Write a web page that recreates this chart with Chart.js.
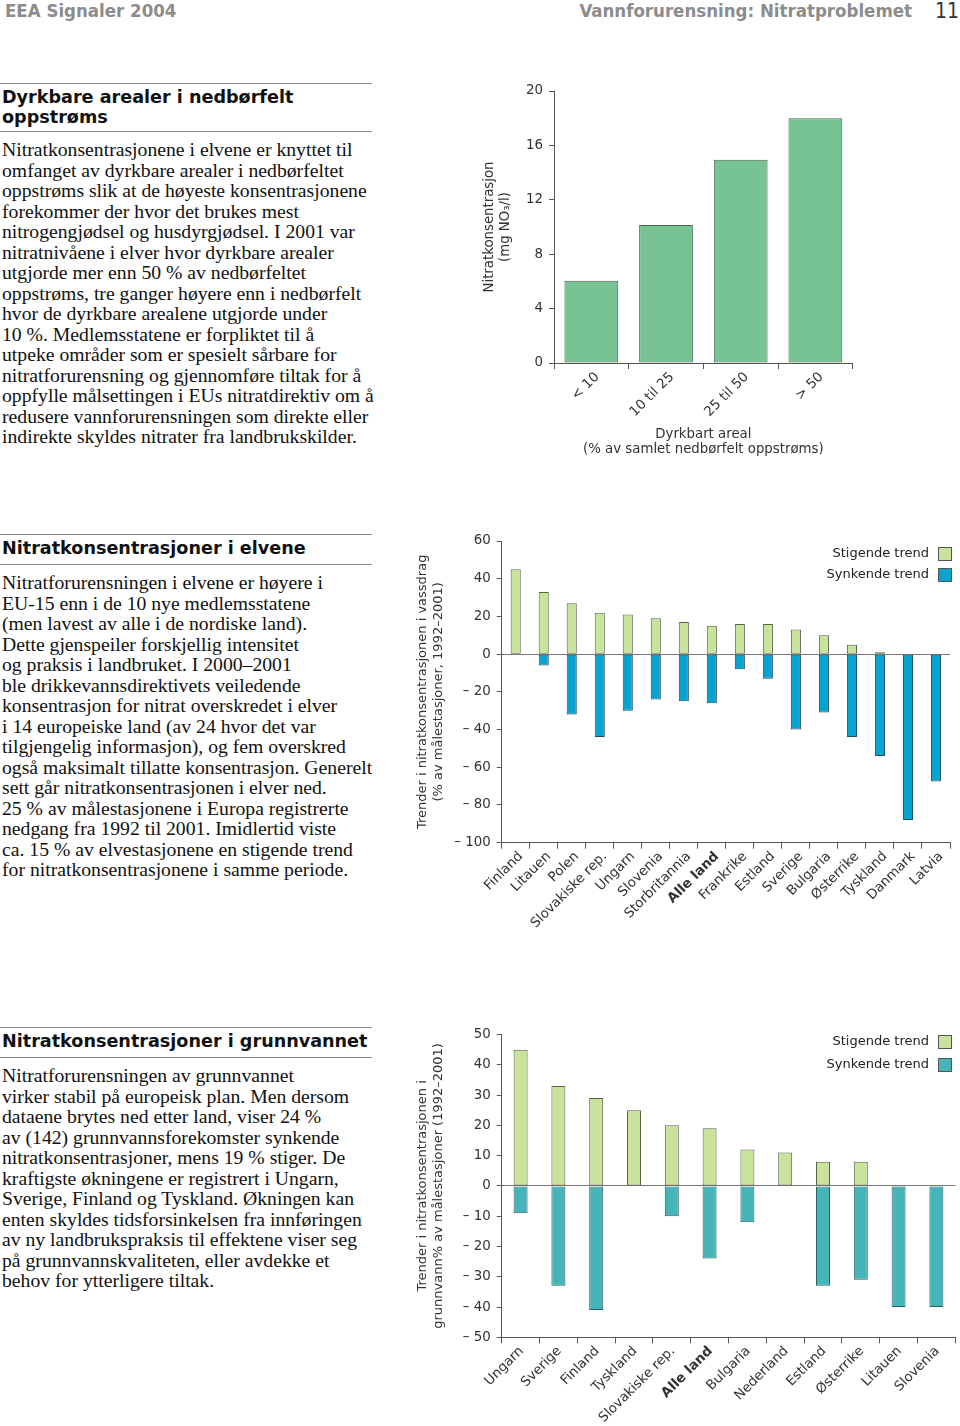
<!DOCTYPE html>
<html><head><meta charset="utf-8">
<script src="https://cdn.jsdelivr.net/npm/chart.js@4/dist/chart.umd.min.js"></script>
<style>
body{margin:0;width:960px;height:1426px;position:relative;background:#fff;overflow:hidden}
.hdr{position:absolute;top:0;font-family:"DejaVu Sans Condensed","DejaVu Sans",sans-serif;font-stretch:condensed;font-weight:bold;font-size:18.5px;line-height:22px;color:#8c8c8c;white-space:nowrap}
.pg{position:absolute;top:0;left:935px;font-family:"DejaVu Sans Condensed","DejaVu Sans",sans-serif;font-stretch:condensed;font-size:21px;line-height:22px;color:#333}
.rule{position:absolute;left:0;width:372px;height:0;border-top:1.5px solid #8a8a8a}
.h2{position:absolute;left:2px;font-family:"DejaVu Sans",Verdana,sans-serif;font-weight:bold;font-size:17.6px;line-height:20px;color:#111;white-space:nowrap}
.txt{position:absolute;left:2px;font-family:"Liberation Serif",serif;font-size:19.7px;line-height:20.5px;color:#111;white-space:nowrap}
canvas{position:absolute}
.leg{position:absolute;right:31px;font-family:"DejaVu Sans",sans-serif;font-size:13px;line-height:16px;color:#222;white-space:nowrap}
.box{position:absolute;left:938px;width:12px;height:12px;border:1px solid #555}
</style>
</head><body>
<div class="hdr" style="left:5px">EEA Signaler 2004</div>
<div class="hdr" style="right:48px">Vannforurensning: Nitratproblemet</div>
<div class="pg">11</div>

<div class="rule" style="top:83px"></div>
<div class="h2" style="top:87px">Dyrkbare arealer i nedbørfelt<br>oppstrøms</div>
<div class="rule" style="top:131px"></div>
<div class="txt" style="top:139px">Nitratkonsentrasjonene i elvene er knyttet til<br>omfanget av dyrkbare arealer i nedbørfeltet<br>oppstrøms slik at de høyeste konsentrasjonene<br>forekommer der hvor det brukes mest<br>nitrogengjødsel og husdyrgjødsel. I 2001 var<br>nitratnivåene i elver hvor dyrkbare arealer<br>utgjorde mer enn 50 % av nedbørfeltet<br>oppstrøms, tre ganger høyere enn i nedbørfelt<br>hvor de dyrkbare arealene utgjorde under<br>10 %. Medlemsstatene er forpliktet til å<br>utpeke områder som er spesielt sårbare for<br>nitratforurensning og gjennomføre tiltak for å<br>oppfylle målsettingen i EUs nitratdirektiv om å<br>redusere vannforurensningen som direkte eller<br>indirekte skyldes nitrater fra landbrukskilder.</div>

<div class="rule" style="top:534px"></div>
<div class="h2" style="top:538px">Nitratkonsentrasjoner i elvene</div>
<div class="rule" style="top:564px"></div>
<div class="txt" style="top:572px">Nitratforurensningen i elvene er høyere i<br>EU-15 enn i de 10 nye medlemsstatene<br>(men lavest av alle i de nordiske land).<br>Dette gjenspeiler forskjellig intensitet<br>og praksis i landbruket. I 2000–2001<br>ble drikkevannsdirektivets veiledende<br>konsentrasjon for nitrat overskredet i elver<br>i 14 europeiske land (av 24 hvor det var<br>tilgjengelig informasjon), og fem overskred<br>også maksimalt tillatte konsentrasjon. Generelt<br>sett går nitratkonsentrasjonen i elver ned.<br>25 % av målestasjonene i Europa registrerte<br>nedgang fra 1992 til 2001. Imidlertid viste<br>ca. 15 % av elvestasjonene en stigende trend<br>for nitratkonsentrasjonene i samme periode.</div>

<div class="rule" style="top:1027px"></div>
<div class="h2" style="top:1031px">Nitratkonsentrasjoner i grunnvannet</div>
<div class="rule" style="top:1057px"></div>
<div class="txt" style="top:1065px">Nitratforurensningen av grunnvannet<br>virker stabil på europeisk plan. Men dersom<br>dataene brytes ned etter land, viser 24 %<br>av (142) grunnvannsforekomster synkende<br>nitratkonsentrasjoner, mens 19 % stiger. De<br>kraftigste økningene er registrert i Ungarn,<br>Sverige, Finland og Tyskland. Økningen kan<br>enten skyldes tidsforsinkelsen fra innføringen<br>av ny landbrukspraksis til effektene viser seg<br>på grunnvannskvaliteten, eller avdekke et<br>behov for ytterligere tiltak.</div>

<canvas id="c1" width="400" height="400" style="left:470px;top:70px"></canvas>
<canvas id="c2" width="555" height="410" style="left:405px;top:525px"></canvas>
<canvas id="c3" width="555" height="406" style="left:405px;top:1020px"></canvas>

<div class="leg" style="top:545px">Stigende trend</div>
<div class="box" style="top:547px;background:#c9e39d"></div>
<div class="leg" style="top:566px">Synkende trend</div>
<div class="box" style="top:568px;background:#08a3cf"></div>

<div class="leg" style="top:1033px">Stigende trend</div>
<div class="box" style="top:1035px;background:#c9e39d"></div>
<div class="leg" style="top:1056px">Synkende trend</div>
<div class="box" style="top:1058px;background:#46b5b9"></div>

<script>
// ---- Chart 1: nitrate vs arable share ----
const arableCategories = ['< 10', '10 til 25', '25 til 50', '> 50'];
const nitrateValues = [6.05, 10.15, 14.95, 18.0];
const arableYTitle = ['Nitratkonsentrasjon', '(mg NO\u2083/l)'];
const arableXTitle = ['Dyrkbart areal', '(% av samlet nedbørfelt oppstrøms)'];

// ---- Chart 2: river trends ----
const riverCountries = ['Finland','Litauen','Polen','Slovakiske rep.','Ungarn','Slovenia','Storbritannia','Alle land','Frankrike','Estland','Sverige','Bulgaria','Østerrike','Tyskland','Danmark','Latvia'];
const riverRising  = [45, 33, 27, 22, 21, 19, 17, 15, 16, 16, 13, 10, 5, 1, null, null];
const riverFalling = [null, -6, -32, -44, -30, -24, -25, -26, -8, -13, -40, -31, -44, -54, -88, -67.5];
const riverYTitle = ['Trender i nitratkonsentrasjonen i vassdrag', '(% av målestasjoner, 1992\u20132001)'];

// ---- Chart 3: groundwater trends ----
const gwCountries = ['Ungarn','Sverige','Finland','Tyskland','Slovakiske rep.','Alle land','Bulgaria','Nederland','Estland','Østerrike','Litauen','Slovenia'];
const gwRising  = [45, 33, 29, 25, 20, 19, 12, 11, 8, 8, null, null];
const gwFalling = [-9, -33, -41, null, -10, -24, -12, null, -33, -31, -40, -40];
const gwYTitle = ['Trender i nitratkonsentrasjonen i', 'grunnvann% av målestasjoner (1992\u20132001)'];

const seriesLabels = ['Stigende trend', 'Synkende trend'];

Chart.defaults.font.family = 'DejaVu Sans';
Chart.defaults.font.size = 13;
Chart.defaults.color = '#333';

const AXIS = '#555';
function dashLabel(v){ return v < 0 ? '\u2013 ' + Math.abs(v) : String(v); }

new Chart(document.getElementById('c1'), {
  type: 'bar',
  data: { labels: arableCategories, datasets: [{
    data: nitrateValues, backgroundColor: '#77c393', borderColor: '#4a6651',
    borderWidth: 1, borderSkipped: false, categoryPercentage: 1, barPercentage: 0.72 }]},
  options: {
    responsive: false, animation: false,
    layout: { autoPadding: false, padding: { top: 21, right: 17.3, left: 0, bottom: 0 } },
    plugins: { legend: { display: false }, tooltip: { enabled: false } },
    scales: {
      x: { offset: true,
        grid: { drawOnChartArea: false, offset: true, tickLength: 6, color: AXIS },
        border: { display: true, color: AXIS },
        ticks: { minRotation: 45, maxRotation: 45, autoSkip: false, padding: 0, labelOffset: 6, color: '#333', font: { size: 13.6 } },
        title: { display: true, text: arableXTitle, color: '#333', font: { size: 13.3, lineHeight: 1.2 }, padding: { top: 0, bottom: 12 } },
        afterFit: s => { s.height = 107; } },
      y: { min: 0, max: 20,
        ticks: { stepSize: 4, padding: 6, color: '#333', font: { size: 13.4 } },
        grid: { drawOnChartArea: false, tickLength: 5, color: AXIS },
        border: { display: true, color: AXIS },
        title: { display: true, text: arableYTitle, color: '#333', font: { size: 13.3, lineHeight: 1.2 }, padding: { top: 12, bottom: 0 } },
        afterFit: s => { s.width = 84; } }
    }
  }
});

function trendChart(id, cats, rise, fall, fallColor, fallBorder, yMin, yMax, step, yTitle, g) {
  new Chart(document.getElementById(id), {
    type: 'bar',
    data: { labels: cats, datasets: [
      { label: seriesLabels[0], data: rise, backgroundColor: '#c9e39d', borderColor: '#56644a',
        borderWidth: 1, borderSkipped: false, categoryPercentage: 1, barPercentage: g.bar },
      { label: seriesLabels[1], data: fall, backgroundColor: fallColor, borderColor: fallBorder,
        borderWidth: 1, borderSkipped: false, categoryPercentage: 1, barPercentage: g.bar }
    ]},
    options: {
      responsive: false, animation: false,
      layout: { autoPadding: false, padding: { top: g.top, right: g.right, left: 0, bottom: 0 } },
      plugins: { legend: { display: false }, tooltip: { enabled: false } },
      scales: {
        x: { stacked: true, offset: true,
          grid: { drawOnChartArea: false, offset: true, tickLength: 6, color: AXIS },
          border: { display: true, color: AXIS },
          ticks: { minRotation: 45, maxRotation: 45, autoSkip: false, padding: 0, labelOffset: g.lo, color: '#333',
            font: c => ({ family: 'DejaVu Sans', size: 13.4, weight: cats[c.index] === 'Alle land' ? 'bold' : 'normal' }) },
          afterFit: s => { s.height = g.xh; } },
        y: { stacked: true, min: yMin, max: yMax,
          ticks: { stepSize: step, padding: 6, color: '#333', callback: dashLabel, font: { size: 13.4 } },
          grid: { drawOnChartArea: true, tickLength: 5, tickColor: AXIS,
            color: c => (c.tick && c.tick.value === 0) ? '#777' : 'rgba(0,0,0,0)' },
          border: { display: true, color: AXIS },
          title: { display: true, text: yTitle, color: '#333', font: { size: 13, lineHeight: 1.2 }, padding: { top: 10.2, bottom: 0 } },
          afterFit: s => { s.width = g.yw; } }
      }
    }
  });
}

trendChart('c2', riverCountries, riverRising, riverFalling, '#08a3cf', '#1d4f66', -100, 60, 20, riverYTitle,
  { bar: 0.36, top: 16, right: 10, xh: 92.3, yw: 96.7, lo: 5 });
trendChart('c3', gwCountries, gwRising, gwFalling, '#46b5b9', '#2b5f61', -50, 50, 10, gwYTitle,
  { bar: 0.37, top: 14.5, right: 4.7, xh: 88.7, yw: 96.7, lo: 1 });
</script>
</body></html>
